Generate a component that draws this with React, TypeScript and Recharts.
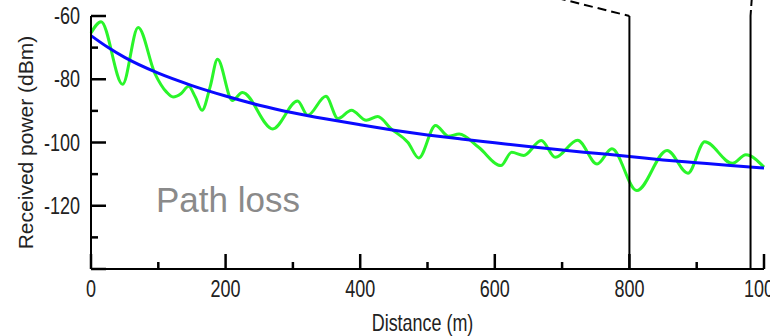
import React from 'react';
import { LineChart, Line, XAxis, YAxis, ReferenceLine } from 'recharts';

// tick values
const distanceTicks = [0, 100, 200, 300, 400, 500, 600, 700, 800, 900, 1000];
const labeledDistances = [0, 200, 400, 600, 800, 1000];
const powerTicks = [-140, -130, -120, -110, -100, -90, -80, -70, -60];
const labeledPowers = [-60, -80, -100, -120];

// measured received power (green)
const measuredDistance = [0, 15, 47, 70, 95, 112, 122, 134, 145, 155, 165, 177, 188, 210, 225, 270, 307, 322, 349, 367, 387, 409, 426, 446, 471, 487, 512, 531, 547, 576, 609, 625, 643, 669, 690, 723, 752, 774, 811, 856, 887, 912, 953, 973, 1000];
const measuredPower = [-65.4, -61.8, -81.6, -63.6, -78.2, -84, -85.6, -84.5, -82.2, -85.6, -89.8, -82.4, -73.7, -86.7, -84.2, -95.7, -86.9, -91.4, -85.4, -92.4, -89.8, -93, -91.8, -95.7, -100, -104.9, -94.6, -98, -97.3, -101.5, -107.3, -103.1, -104.1, -99.4, -104.7, -99.3, -106.8, -102, -115.2, -102.5, -109.7, -99.8, -106.6, -103.9, -107.8];

// path loss curve (blue)
const pathLossDistance = [0, 25, 50, 100, 150, 200, 250, 300, 350, 400, 450, 500, 550, 600, 650, 700, 750, 800, 850, 900, 950, 1000];
const pathLossPower = [-66.2, -69.9, -73.1, -78.1, -82.0, -85.3, -88.2, -90.6, -92.6, -94.4, -96.1, -97.6, -98.9, -100.1, -101.3, -102.4, -103.4, -104.4, -105.5, -106.4, -107.3, -108.1];

// zoom marker positions (distance)
const zoomStart = 800;
const zoomEnd = 980;

const measuredData = measuredDistance.map((d, i) => ({ d, p: measuredPower[i] }));
const pathLossData = pathLossDistance.map((d, i) => ({ d, p: pathLossPower[i] }));

const fontFamily = '"Liberation Sans", Arial, sans-serif';

// horizontally condensed text, like the original figure
const NarrowText = ({ x, y, anchor, size, sx, children }: any) => (
  <text
    transform={`translate(${x} ${y}) scale(${sx} 1)`}
    textAnchor={anchor}
    fill="#222"
    style={{ fontFamily, fontSize: size }}
  >
    {children}
  </text>
);

const BottomTick = (props: any) => {
  const { x, y, payload } = props;
  const major = labeledDistances.includes(payload.value);
  return (
    <g>
      <line x1={x} y1={y} x2={x} y2={y - (major ? 15 : 7)} stroke="#000" strokeWidth={2.5} />
      {major && (
        <NarrowText x={x} y={y + 28} anchor="middle" size={24} sx={0.75}>
          {payload.value}
        </NarrowText>
      )}
    </g>
  );
};

const TopTick = (props: any) => {
  const { x, y, payload } = props;
  const major = labeledDistances.includes(payload.value);
  return <line x1={x} y1={y} x2={x} y2={y + (major ? 16 : 8)} stroke="#000" strokeWidth={2.5} />;
};

const LeftTick = (props: any) => {
  const { x, y, payload } = props;
  const major = payload.value % 20 === 0;
  return (
    <g>
      <line x1={x} y1={y} x2={x + (major ? 15 : 7)} y2={y} stroke="#000" strokeWidth={2.5} />
      {labeledPowers.includes(payload.value) && (
        <NarrowText x={x - 11} y={y + 8} anchor="end" size={24} sx={0.75}>
          {payload.value}
        </NarrowText>
      )}
    </g>
  );
};

const RightTick = (props: any) => {
  const { x, y, payload } = props;
  const major = payload.value % 20 === 0;
  return <line x1={x} y1={y} x2={x - (major ? 17 : 10)} y2={y} stroke="#000" strokeWidth={2.5} />;
};

const XLabel = (props: any) => {
  const { viewBox } = props;
  return (
    <NarrowText x={viewBox.x + viewBox.width / 2 - 5} y={viewBox.y + viewBox.height - 5} anchor="middle" size={23} sx={0.78}>
      Distance (m)
    </NarrowText>
  );
};

const YLabel = (props: any) => {
  const { viewBox } = props;
  const cx = viewBox.x + 25;
  const cy = viewBox.y + viewBox.height / 2;
  return (
    <text
      x={cx}
      y={cy}
      transform={`rotate(-90 ${cx} ${cy})`}
      textAnchor="middle"
      dominantBaseline="central"
      fill="#222"
      style={{ fontFamily, fontSize: 21 }}
    >
      Received power (dBm)
    </text>
  );
};

const axisLine = { stroke: '#000', strokeWidth: 2 };

export default function App() {
  return (
    <div style={{ position: 'absolute', left: 0, top: 0, width: 770, height: 336, background: '#fff' }}>
      <LineChart width={770} height={336} data={measuredData} margin={{ top: 16, right: 6, bottom: 0, left: 0 }}>
        <XAxis
          xAxisId="b"
          dataKey="d"
          type="number"
          domain={[0, 1000]}
          ticks={distanceTicks}
          interval={0}
          height={67}
          tickSize={0}
          tickMargin={0}
          tickLine={false}
          axisLine={axisLine}
          tick={BottomTick}
          label={<XLabel />}
        />
        <XAxis
          xAxisId="t"
          orientation="top"
          dataKey="d"
          type="number"
          domain={[0, 1000]}
          ticks={distanceTicks}
          interval={0}
          height={0}
          tickSize={0}
          tickMargin={0}
          tickLine={false}
          axisLine={axisLine}
          tick={TopTick}
        />
        <YAxis
          yAxisId="l"
          type="number"
          domain={[-140, -60]}
          ticks={powerTicks}
          interval={0}
          width={91}
          tickSize={0}
          tickMargin={0}
          tickLine={false}
          axisLine={axisLine}
          tick={LeftTick}
          label={<YLabel />}
        />
        <YAxis
          yAxisId="r"
          orientation="right"
          type="number"
          domain={[-140, -60]}
          ticks={powerTicks}
          interval={0}
          width={0}
          tickSize={0}
          tickMargin={0}
          tickLine={false}
          axisLine={axisLine}
          tick={RightTick}
        />
        <Line
          xAxisId="b"
          yAxisId="l"
          data={measuredData}
          dataKey="p"
          type="monotone"
          stroke="#2af52a"
          strokeWidth={3}
          dot={false}
          isAnimationActive={false}
        />
        <Line
          xAxisId="b"
          yAxisId="l"
          data={pathLossData}
          dataKey="p"
          type="monotone"
          stroke="#0a0aff"
          strokeWidth={3}
          dot={false}
          isAnimationActive={false}
        />
        <ReferenceLine xAxisId="b" yAxisId="l" x={zoomStart} stroke="#000" strokeWidth={2} />
        <ReferenceLine xAxisId="b" yAxisId="l" x={zoomEnd} stroke="#000" strokeWidth={2} />
        <ReferenceLine
          xAxisId="b"
          yAxisId="l"
          segment={[{ x: 672, y: -53.2 }, { x: zoomStart, y: -60 }]}
          stroke="#000"
          strokeWidth={2}
          strokeDasharray="9 5"
          ifOverflow="visible"
        />
        <ReferenceLine
          xAxisId="b"
          yAxisId="l"
          segment={[{ x: zoomEnd, y: -60 }, { x: zoomEnd + 2, y: -54 }]}
          stroke="#000"
          strokeWidth={2}
          strokeDasharray="6 4"
          ifOverflow="visible"
        />
      </LineChart>
      <div
        style={{
          position: 'absolute',
          left: 156,
          top: 182,
          fontFamily,
          fontSize: 35,
          lineHeight: '35px',
          color: '#8a8a8a',
          whiteSpace: 'nowrap',
        }}
      >
        Path loss
      </div>
    </div>
  );
}
